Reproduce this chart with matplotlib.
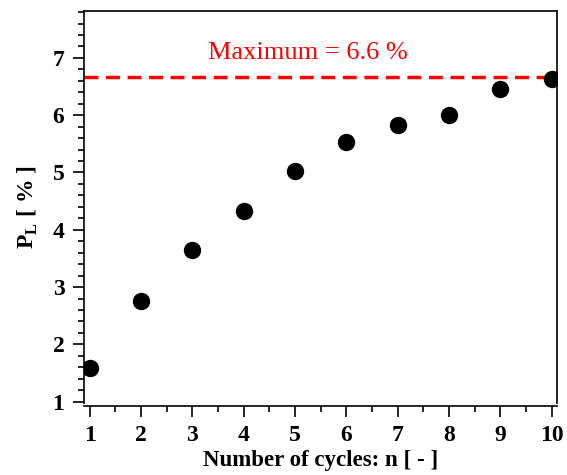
import matplotlib.pyplot as plt
from matplotlib.ticker import MultipleLocator

cycles = [1, 2, 3, 4, 5, 6, 7, 8, 9, 10]
pl_values = [1.59, 2.75, 3.64, 4.32, 5.03, 5.54, 5.83, 6.01, 6.45, 6.64]
pl_max = 6.66
max_label = 'Maximum = 6.6 %'

plt.rcParams['font.family'] = ['Liberation Serif', 'DejaVu Serif']
plt.rcParams['font.weight'] = 'bold'
plt.rcParams['mathtext.fontset'] = 'custom'
plt.rcParams['mathtext.rm'] = 'Liberation Serif'
plt.rcParams['mathtext.bf'] = 'Liberation Serif:bold'

fig = plt.figure(figsize=(5.67, 4.75), dpi=100)
ax = fig.add_axes([0.148, 0.152, 0.834, 0.825])

ax.plot(cycles, pl_values, 'o', color='black', markersize=11.5, zorder=3)
ax.axhline(pl_max, color='#ff0000', linestyle=(0, (4, 2.2)), linewidth=2.5, zorder=2)
ax.text(5.25, pl_max + 0.24, max_label, color='#ff0000', fontsize=19,
        fontweight='normal', ha='center', va='bottom')

ax.set_xlim(0.89, 10.1)
ax.set_ylim(0.98, 7.82)
ax.xaxis.set_major_locator(MultipleLocator(1))
ax.xaxis.set_minor_locator(MultipleLocator(0.5))
ax.yaxis.set_major_locator(MultipleLocator(1))
ax.yaxis.set_minor_locator(MultipleLocator(0.2))

ax.tick_params(which='major', direction='out', length=8, width=1.2, labelsize=17, pad=6)
ax.tick_params(which='minor', direction='out', length=4, width=1.2)
for s in ax.spines.values():
    s.set_linewidth(1.2)
ax.spines['bottom'].set_position(('outward', 2))

ax.set_xlabel('Number of cycles: n [ - ]', fontsize=16.5, fontweight='bold', labelpad=3)
ax.set_ylabel(r'P$_{\mathbf{L}}$ [ % ]', fontsize=17, fontweight='bold', labelpad=9)

fig.savefig('out.png', dpi=100)
